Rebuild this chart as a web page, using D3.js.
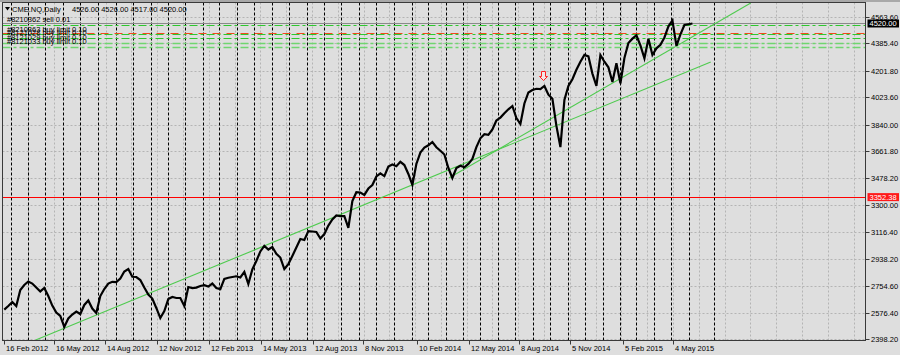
<!DOCTYPE html>
<html><head><meta charset="utf-8">
<script src="https://cdn.jsdelivr.net/npm/d3@7"></script>
<style>
html,body{margin:0;padding:0;background:#dedede;}
svg{display:block;font-family:"Liberation Sans",Arial,sans-serif;}
</style></head><body>
<svg id="c" width="900" height="355"></svg>
<script>
// ---------------- data ----------------
const symbolName = "CME.NQ,Daily";
const ohlcText = ["4526.00", "4526.00", "4517.00", "4520.00"];
const seriesStart = "2012-02-19";           // first weekly sample
const weeklyClose = [
 2596,2620,2647,2620,2728,2761,2785,2771,2744,2718,
 2741,2687,2623,2576,2553,2479,2536,2563,2583,2566,
 2627,2657,2603,2573,2687,2734,2771,2783,2781,2805,
 2852,2869,2817,2815,2795,2744,2697,2670,2607,2539,
 2586,2667,2681,2674,2674,2620,2748,2741,2744,2755,
 2760,2751,2771,2741,2734,2802,2810,2815,2820,2812,
 2849,2768,2866,2923,2987,3024,3000,3017,2971,2946,
 2869,2902,2956,3013,3071,3064,3124,3121,3118,3074,
 3104,3161,3202,3229,3225,3225,3145,3326,3385,3383,
 3367,3410,3434,3491,3512,3494,3558,3572,3560,3590,
 3568,3508,3434,3575,3652,3685,3701,3723,3688,3664,
 3639,3548,3481,3548,3563,3553,3576,3609,3689,3748,
 3775,3771,3807,3868,3887,3916,3943,3965,3884,3844,
 3982,4056,4073,4081,4079,4100,4041,4014,3831,3689,
 4005,4100,4145,4209,4263,4309,4299,4183,4100,4308,
 4263,4225,4126,4252,4118,4288,4389,4418,4440,4372,
 4286,4417,4308,4353,4377,4426,4501,4540,4369,4447,
 4510,4515,4520
];
const priceTicks = [4563.60,4385.40,4201.80,4023.60,3840.00,3661.80,3478.20,3300.00,3116.40,2938.20,2754.60,2576.40,2398.20];
const dateTicks = ["2012-02-16","2012-05-16","2012-08-14","2012-11-12","2013-02-12","2013-05-14","2013-08-12","2013-11-08","2014-02-10","2014-05-12","2014-08-08","2014-11-05","2015-02-05","2015-05-04"];
const dateTickLabels = ["16 Feb 2012","16 May 2012","14 Aug 2012","12 Nov 2012","12 Feb 2013","14 May 2013","12 Aug 2013","8 Nov 2013","10 Feb 2014","12 May 2014","8 Aug 2014","5 Nov 2014","5 Feb 2015","4 May 2015"];
const orderLabels = ["#8210362 sell 0.01","#8210363 buy limit 0.10","#8121028 buy limit 0.10","#8121029 buy limit 0.10","#8121033 buy limit 0.10"];
const orderPrices = [4513, 4449, 4424, 4391, 4360];
const stopPrice = 4456;
const bidPrice = 4520.00;
const redLevel = 3352.38;
const trendLowerDates = ["2012-04-14","2015-07-09"];
const trendLowerPrices = [2391, 4261];
const trendUpperDates = ["2014-04-07","2015-09-17"];
const trendUpperPrices = [3481, 4658];
const arrowDate = "2014-09-18";
const arrowPrice = 4140;
const extraSeparator = "2015-07-14";

// ---------------- drawing ----------------
const W = 900, H = 355;
const L = 2.5, T = 2.5, R = 865.5, B = 340.5;
const FS = "7.5px";
const parse = d3.utcParse("%Y-%m-%d");
const x = d3.scaleUtc().domain([parse("2012-05-16"), parse("2015-05-04")]).range([54, 673]);
const y = d3.scaleLinear().domain([2398.2, 4563.6]).range([339, 17]);
const px = v => Math.round(v) + 0.5;

const start = parse(seriesStart);
const pts = weeklyClose.map((v, i) => ({d: d3.utcDay.offset(start, 7 * i), v}));

const svg = d3.select("#c");
svg.append("rect").attr("width", W).attr("height", H).attr("fill", "#dedede");
svg.append("rect").attr("width", W).attr("height", 2).attr("fill", "#a8a8a8");
svg.append("defs").append("clipPath").attr("id", "plot")
  .append("rect").attr("x", L).attr("y", T).attr("width", R - L).attr("height", B - T);
const g = svg.append("g").attr("clip-path", "url(#plot)");

// light grid: horizontal
g.selectAll(".hg").data(priceTicks).join("line")
  .attr("x1", L).attr("x2", R).attr("y1", d => px(y(d))).attr("y2", d => px(y(d)))
  .attr("stroke", "#b4b4b4").attr("stroke-dasharray", "2,2");
// light grid: vertical (at label spacing and midpoints)
const tx = dateTicks.map(d => x(parse(d)));
const half = (tx[tx.length - 1] - tx[1]) / (tx.length - 2) / 2;
const vg = [];
for (let k = -4; k < 80; k++) { const gx = tx[1] + k * half; if (gx > L + 2 && gx < R - 2) vg.push(gx); }
g.selectAll(".vg").data(vg).join("line")
  .attr("x1", d => px(d)).attr("x2", d => px(d)).attr("y1", T).attr("y2", B)
  .attr("stroke", "#b4b4b4").attr("stroke-dasharray", "2,2");

// monthly period separators
const months = d3.utcMonth.range(d3.utcMonth.ceil(pts[0].d), pts[pts.length - 1].d);
months.push(parse(extraSeparator));
g.selectAll(".sep").data(months).join("line")
  .attr("x1", d => px(x(d))).attr("x2", d => px(x(d))).attr("y1", T).attr("y2", B)
  .attr("stroke", "#000").attr("stroke-dasharray", "3,2");

// bid line
g.append("line").attr("x1", L).attr("x2", R).attr("y1", px(y(bidPrice))).attr("y2", px(y(bidPrice)))
  .attr("stroke", "#8a8a8a");

// order lines
g.selectAll(".ord").data(orderPrices).join("line")
  .attr("x1", L).attr("x2", R).attr("y1", d => px(y(d))).attr("y2", d => px(y(d)))
  .attr("stroke", (d, i) => i >= 3 ? "#6fd66f" : "#2ec82e")
  .attr("stroke-width", (d, i) => i >= 3 ? 1.6 : 1.2)
  .attr("stroke-dasharray", "8,3,3,3");
g.append("line").attr("x1", L).attr("x2", R).attr("y1", px(y(stopPrice))).attr("y2", px(y(stopPrice)))
  .attr("stroke", "#f04a1a").attr("stroke-width", 1.2).attr("stroke-dasharray", "8,6");

// red level
g.append("line").attr("x1", L).attr("x2", R).attr("y1", px(y(redLevel))).attr("y2", px(y(redLevel)))
  .attr("stroke", "#ff0000");

// trend lines
const trend = (ds, ps) => g.append("line")
  .attr("x1", x(parse(ds[0]))).attr("y1", y(ps[0]))
  .attr("x2", x(parse(ds[1]))).attr("y2", y(ps[1]))
  .attr("stroke", "#4fcb4f").attr("stroke-width", 1.1);
trend(trendLowerDates, trendLowerPrices);
trend(trendUpperDates, trendUpperPrices);

// price line
g.append("path").datum(pts)
  .attr("d", d3.line().x(d => x(d.d)).y(d => y(d.v)))
  .attr("fill", "none").attr("stroke", "#000").attr("stroke-width", 2.2)
  .attr("stroke-linejoin", "miter");

// sell arrow
const ax = x(parse(arrowDate)), ay = y(arrowPrice);
g.append("path")
  .attr("d", "M0,0 L-4,-4 L-2,-4 L-2,-9 L2,-9 L2,-4 L4,-4 Z")
  .attr("transform", `translate(${Math.round(ax) + 0.5},${Math.round(ay) + 0.5})`)
  .attr("fill", "#f2e6e6").attr("stroke", "#ff2020").attr("stroke-width", 1);

// frame
svg.append("rect").attr("x", L).attr("y", T).attr("width", R - L).attr("height", B - T)
  .attr("fill", "none").attr("stroke", "#3a3a3a");

// right axis
const ra = svg.append("g").attr("font-size", FS);
priceTicks.forEach(p => {
  const yy = px(y(p));
  ra.append("line").attr("x1", R).attr("x2", R + 4).attr("y1", yy).attr("y2", yy).attr("stroke", "#3a3a3a");
  ra.append("text").attr("x", R + 5.5).attr("y", yy).attr("dy", "0.35em").attr("fill", "#000").text(p.toFixed(2));
});
const box = (p, bg) => {
  const yy = y(p);
  ra.append("rect").attr("x", R + 2).attr("y", yy - 4).attr("width", 31.5).attr("height", 8).attr("fill", bg);
  ra.append("text").attr("x", R + 4).attr("y", yy).attr("dy", "0.35em").attr("fill", "#fff").text(p.toFixed(2));
};
box(redLevel, "#ff1a1a");
box(bidPrice, "#000");

// bottom axis
const ba = svg.append("g").attr("font-size", FS);
dateTicks.forEach((d, i) => {
  const xx = px(Math.max(L + 1, x(parse(d))));
  ba.append("line").attr("x1", xx).attr("x2", xx).attr("y1", B).attr("y2", B + 4).attr("stroke", "#3a3a3a");
  ba.append("text").attr("x", xx + 1.5).attr("y", B + 10).attr("fill", "#000").text(dateTickLabels[i]);
});

// header
const hd = svg.append("g").attr("font-size", FS).attr("fill", "#000");
hd.append("path").attr("d", "M5,7 L10,7 L7.5,10.5 Z").attr("fill", "#000");
hd.append("text").attr("x", 12).attr("y", 12).text(symbolName);
hd.append("text").attr("x", 72).attr("y", 12).text(ohlcText.join(" "));
const labelBase = [22, 31.5, 34.5, 39.5, 44];
orderLabels.forEach((t, i) => hd.append("text").attr("x", 7).attr("y", labelBase[i]).text(t));
</script>
</body></html>
